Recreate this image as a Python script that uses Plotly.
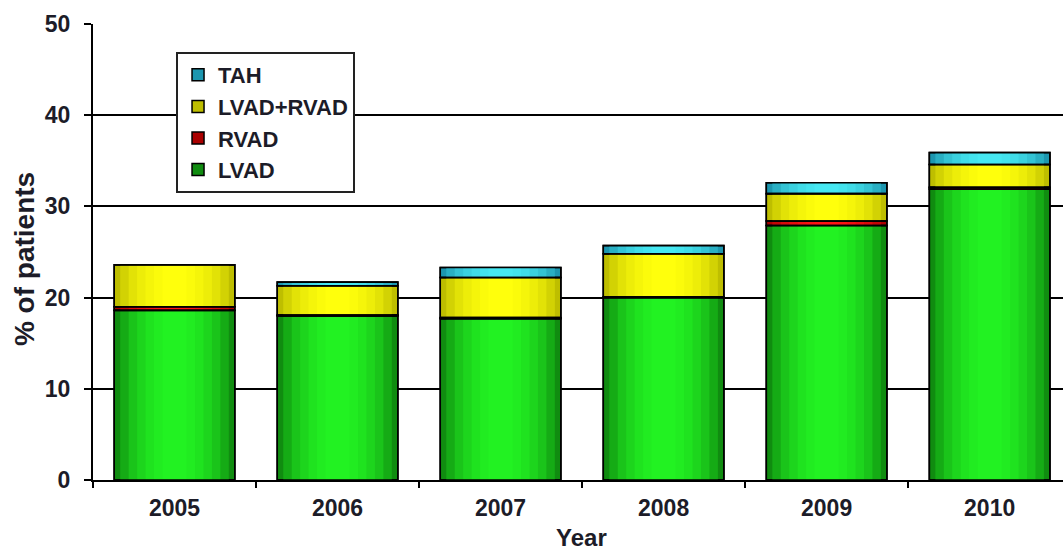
import numpy as np
import plotly.graph_objects as go

# Share of patients receiving each device type, by implant year
years = ["2005", "2006", "2007", "2008", "2009", "2010"]
lvad = [18.6, 18.0, 17.7, 20.0, 27.9, 31.9]
rvad = [0.4, 0.1, 0.1, 0.1, 0.5, 0.2]
lvad_rvad = [4.6, 3.2, 4.4, 4.7, 3.0, 2.5]
tah = [0.0, 0.4, 1.1, 0.9, 1.2, 1.3]

series = [
    ("LVAD", lvad, (16, 140, 16), (34, 242, 34)),
    ("RVAD", rvad, (170, 0, 0), (255, 20, 20)),
    ("LVAD+RVAD", lvad_rvad, (190, 190, 0), (255, 255, 12)),
    ("TAH", tah, (28, 150, 175), (70, 232, 242)),
]
legend_rank = {"TAH": 1, "LVAD+RVAD": 2, "RVAD": 3, "LVAD": 4}

BAR_W = 0.74
# nested bar layers give a cylinder-like shading from dark edges to a bright centre
layer_scale = [1.0, 0.9, 0.76, 0.62, 0.48, 0.34, 0.2]
layer_mix = [0.0, 0.3, 0.55, 0.72, 0.85, 0.94, 1.0]


def blend(c0, c1, t):
    r, g, b = (int(round(a + (b_ - a) * t)) for a, b_ in zip(c0, c1))
    return f"rgb({r},{g},{b})"


fig = go.Figure()
bases = np.zeros(len(years))
outlines = []
for name, vals, edge, centre in series:
    vals = np.array(vals, dtype=float)
    for i, (s, t) in enumerate(zip(layer_scale, layer_mix)):
        first = i == 0
        fig.add_trace(go.Bar(
            x=years, y=vals, base=bases.copy(), width=BAR_W * s,
            name=name, showlegend=first, legendrank=legend_rank[name],
            legendgroup=name,
            marker=dict(color=blend(edge, centre, t),
                        line=dict(color="black", width=1.5 if first else 0)),
            hoverinfo="skip" if not first else None,
        ))
    outlines.append((vals.copy(), bases.copy()))
    bases = bases + vals

# black outlines drawn on top of the shading
for vals, base in outlines:
    fig.add_trace(go.Bar(
        x=years, y=vals, base=base, width=BAR_W, showlegend=False,
        marker=dict(color="rgba(0,0,0,0)", line=dict(color="black", width=1.6)),
        hoverinfo="skip",
    ))

font_bold = "Liberation Sans"
text_col = "#1c1c28"


def bold(size):
    return dict(size=size, family=font_bold, color=text_col, weight="bold")


fig.update_layout(
    width=1063, height=553,
    margin=dict(l=93, r=0, t=24, b=73),
    paper_bgcolor="white", plot_bgcolor="white",
    barmode="overlay",
    font=dict(family=font_bold, color=text_col),
    showlegend=True,
    legend=dict(
        x=0.0856, y=0.9386, xanchor="left", yanchor="top",
        bgcolor="white", bordercolor="#222", borderwidth=2,
        font=bold(22),
        tracegroupgap=0, traceorder="grouped",
    ),
    xaxis=dict(
        type="category", range=[-0.5, 5.45],
        tickson="boundaries", ticks="outside", ticklen=6, tickwidth=1.5,
        tickcolor="black", showline=True, linecolor="black", linewidth=2,
        showgrid=False, ticklabelstandoff=6,
        tickfont=bold(23),
    ),
    yaxis=dict(
        range=[0, 50], dtick=10, ticks="outside", ticklen=7, tickwidth=1.5,
        tickcolor="black", showline=True, linecolor="black", linewidth=2,
        showgrid=True, gridcolor="black", gridwidth=1.5, zeroline=False,
        ticklabelstandoff=9,
        tickfont=bold(23),
    ),
    annotations=[
        dict(text="% of patients", textangle=-90, xref="paper", yref="paper",
             x=-0.0711, y=0.4846, xanchor="center", yanchor="middle",
             showarrow=False, font=bold(28)),
        dict(text="Year", xref="paper", yref="paper", x=0.504, y=-0.125,
             xanchor="center", yanchor="middle", showarrow=False,
             font=bold(24)),
    ],
)

fig.write_html("out.html")
